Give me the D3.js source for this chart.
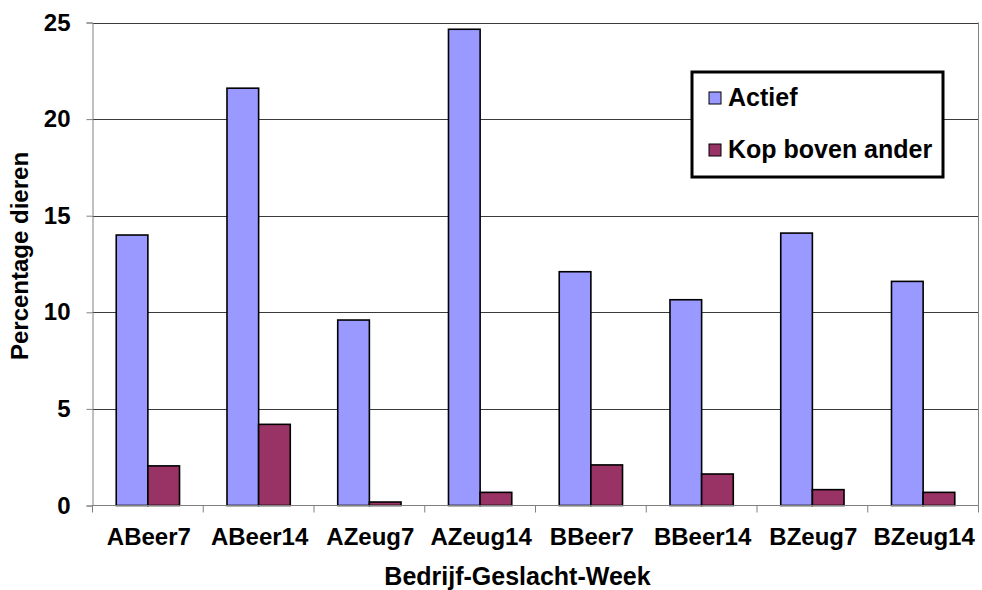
<!DOCTYPE html>
<html>
<head>
<meta charset="utf-8">
<script src="https://cdn.jsdelivr.net/npm/d3@7"></script>
<style>
  html, body { margin: 0; padding: 0; background: #fff; }
  svg { display: block; font-family: "Liberation Sans", Arial, sans-serif; }
</style>
</head>
<body>
<svg id="chart" width="982" height="590"></svg>
<script>
// Groups (Bedrijf-Geslacht-Week) and the two behaviour series
const categories = ["ABeer7", "ABeer14", "AZeug7", "AZeug14", "BBeer7", "BBeer14", "BZeug7", "BZeug14"];
const seriesNames = ["Actief", "Kop boven ander"];
const actief = [14.0, 21.6, 9.6, 24.65, 12.1, 10.65, 14.1, 11.6];
const kopBovenAnder = [2.05, 4.2, 0.18, 0.68, 2.1, 1.63, 0.82, 0.68];
const yTicks = [0, 5, 10, 15, 20, 25];
const colors = ["#9999FF", "#993366"];

const svg = d3.select("#chart");
const m = { left: 92.5, right: 978.5, top: 22.5, bottom: 505.5 };
const FS = 24;      // tick labels
const FT = 25;      // titles and legend

const x = d3.scaleBand().domain(categories).range([m.left, m.right]).paddingInner(0).paddingOuter(0);
const y = d3.scaleLinear().domain([0, 25]).range([m.bottom, m.top]);

// Bars take 2 slots out of 3.5 of a category (gap width 150%)
const slot = x.bandwidth() / 3.5;
const sub = d3.scaleBand().domain(seriesNames).range([slot * 0.75, slot * 2.75]);

// Horizontal gridlines
svg.append("g")
  .selectAll("line")
  .data(yTicks.filter(t => t > 0))
  .join("line")
  .attr("x1", m.left).attr("x2", m.right)
  .attr("y1", d => Math.round(y(d)) + 0.5).attr("y2", d => Math.round(y(d)) + 0.5)
  .attr("stroke", "#3a3a3a").attr("stroke-width", 1);

// Plot area right edge
svg.append("line")
  .attr("x1", m.right).attr("x2", m.right)
  .attr("y1", m.top).attr("y2", m.bottom)
  .attr("stroke", "#808080").attr("stroke-width", 1);

// Bars
const rows = categories.map((c, i) => ({ cat: c, vals: [actief[i], kopBovenAnder[i]] }));
const groups = svg.append("g")
  .selectAll("g")
  .data(rows)
  .join("g")
  .attr("transform", d => `translate(${x(d.cat)},0)`);

groups.selectAll("rect")
  .data(d => d.vals.map((v, k) => ({ name: seriesNames[k], v, k })))
  .join("rect")
  .attr("x", d => sub(d.name))
  .attr("width", sub.bandwidth())
  .attr("y", d => y(d.v))
  .attr("height", d => y(0) - y(d.v))
  .attr("fill", d => colors[d.k])
  .attr("stroke", "#000")
  .attr("stroke-width", 1.6);

// Y axis
const yAxis = svg.append("g")
  .attr("transform", `translate(${m.left},0)`)
  .call(d3.axisLeft(y).tickValues(yTicks).tickSize(6).tickPadding(16).tickFormat(d3.format("d")));
yAxis.select(".domain").attr("stroke", "#808080");
yAxis.selectAll(".tick line").attr("stroke", "#808080");
yAxis.selectAll(".tick text")
  .attr("font-size", FS).attr("font-weight", "bold").attr("fill", "#000")
  .attr("font-family", "Liberation Sans, Arial, sans-serif");

// X axis with ticks at category boundaries
const xAxis = svg.append("g")
  .attr("transform", `translate(0,${m.bottom})`);
xAxis.append("line")
  .attr("x1", m.left).attr("x2", m.right)
  .attr("y1", 0).attr("y2", 0)
  .attr("stroke", "#808080");
const bounds = categories.map(c => x(c)).concat([x(categories[categories.length - 1]) + x.bandwidth()]);
xAxis.selectAll("line.tk")
  .data(bounds)
  .join("line")
  .attr("class", "tk")
  .attr("x1", d => d).attr("x2", d => d)
  .attr("y1", 0).attr("y2", 7)
  .attr("stroke", "#808080");
xAxis.selectAll("text")
  .data(categories)
  .join("text")
  .attr("x", d => x(d) + x.bandwidth() / 2 + 1)
  .attr("y", 39)
  .attr("text-anchor", "middle")
  .attr("font-size", FS).attr("font-weight", "bold")
  .text(d => d);

// Axis titles
svg.append("text")
  .attr("x", (m.left + m.right) / 2 - 18)
  .attr("y", 585)
  .attr("text-anchor", "middle")
  .attr("font-size", FT).attr("font-weight", "bold")
  .text("Bedrijf-Geslacht-Week");

svg.append("text")
  .attr("transform", `translate(28,${(m.top + m.bottom) / 2 - 8}) rotate(-90)`)
  .attr("text-anchor", "middle")
  .attr("font-size", FS).attr("font-weight", "bold")
  .text("Percentage dieren");

// Legend
const legend = svg.append("g").attr("transform", "translate(692,72)");
legend.append("rect")
  .attr("width", 251).attr("height", 105)
  .attr("fill", "#fff").attr("stroke", "#000").attr("stroke-width", 3);
const items = legend.selectAll("g.item")
  .data(seriesNames)
  .join("g")
  .attr("class", "item")
  .attr("transform", (d, i) => `translate(0,${26 + i * 52})`);
items.append("rect")
  .attr("x", 17).attr("y", -6)
  .attr("width", 12).attr("height", 12)
  .attr("fill", (d, i) => colors[i]).attr("stroke", "#000").attr("stroke-width", 1);
items.append("text")
  .attr("x", 36).attr("y", 8)
  .attr("font-size", FT).attr("font-weight", "bold")
  .text(d => d);
</script>
</body>
</html>
